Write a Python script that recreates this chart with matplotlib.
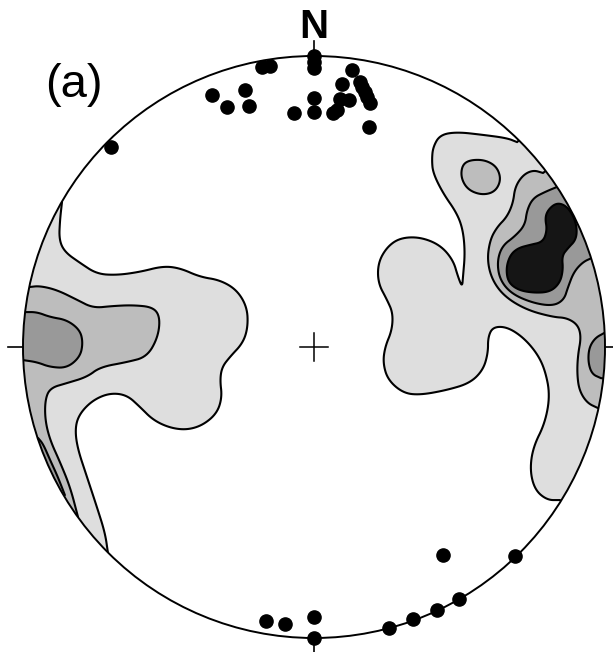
import numpy as np
import matplotlib
matplotlib.use('Agg')
import matplotlib.pyplot as plt
from matplotlib.patches import Circle, Polygon

# net coordinates: x = east, y = north, primitive circle radius 1
pole_x = [-0.179, -0.151, 0.0, 0.0, 0.0, 0.131, 0.096, 0.158, 0.165, 0.175, 0.182, 0.192,
          -0.237, -0.351, -0.299, -0.223, 0.0, -0.069, 0.0, 0.089, 0.120, 0.079, 0.065,
          0.189, -0.698,
          -0.165, -0.100, 0.0, 0.0, 0.258, 0.340, 0.423, 0.498, 0.443, 0.691]
pole_y = [0.962, 0.966, 1.0, 0.979, 0.959, 0.952, 0.904, 0.911, 0.893, 0.876, 0.859, 0.838,
          0.883, 0.866, 0.825, 0.828, 0.856, 0.804, 0.808, 0.852, 0.849, 0.814, 0.804,
          0.756, 0.687,
          -0.942, -0.952, -0.928, -1.0, -0.966, -0.935, -0.904, -0.866, -0.715, -0.718]

# contour outlines (open ones end on the primitive circle)
west_1 = [(-0.866, 0.498), (-0.873, 0.436), (-0.876, 0.368), (-0.856, 0.326), (-0.804, 0.289),
          (-0.746, 0.251), (-0.677, 0.247), (-0.598, 0.258), (-0.519, 0.278), (-0.460, 0.271),
          (-0.392, 0.241), (-0.323, 0.230), (-0.265, 0.196), (-0.230, 0.137), (-0.227, 0.069),
          (-0.244, 0.014), (-0.289, -0.034), (-0.316, -0.069), (-0.323, -0.113), (-0.316, -0.172),
          (-0.333, -0.227), (-0.381, -0.268), (-0.436, -0.285), (-0.495, -0.278), (-0.553, -0.251),
          (-0.598, -0.206), (-0.643, -0.165), (-0.701, -0.158), (-0.759, -0.182), (-0.804, -0.227),
          (-0.821, -0.275), (-0.814, -0.344), (-0.780, -0.447), (-0.746, -0.550), (-0.718, -0.639),
          (-0.708, -0.708)]
west_2 = [(-0.979, 0.206), (-0.942, 0.210), (-0.883, 0.196), (-0.814, 0.162), (-0.759, 0.134),
          (-0.691, 0.141), (-0.622, 0.144), (-0.553, 0.137), (-0.529, 0.103), (-0.536, 0.034),
          (-0.574, -0.034), (-0.643, -0.052), (-0.735, -0.069), (-0.780, -0.103), (-0.849, -0.124),
          (-0.907, -0.141), (-0.924, -0.182), (-0.924, -0.251), (-0.907, -0.320), (-0.873, -0.395),
          (-0.838, -0.481), (-0.811, -0.584)]
west_3 = [(-0.993, 0.120), (-0.952, 0.120), (-0.907, 0.103), (-0.849, 0.093), (-0.804, 0.058),
          (-0.794, 0.014), (-0.804, -0.034), (-0.849, -0.072), (-0.907, -0.069), (-0.952, -0.052),
          (-1.000, -0.045)]
west_3b = [(-0.948, -0.313), (-0.931, -0.333), (-0.907, -0.388), (-0.880, -0.447), (-0.856, -0.509)]

east_1 = [(0.698, 0.704), (0.663, 0.718), (0.581, 0.729), (0.491, 0.739), (0.433, 0.729),
          (0.409, 0.687), (0.405, 0.643), (0.409, 0.598), (0.443, 0.529), (0.491, 0.460),
          (0.512, 0.402), (0.519, 0.323), (0.512, 0.241), (0.509, 0.206), (0.495, 0.241),
          (0.478, 0.299), (0.433, 0.351), (0.364, 0.378), (0.296, 0.375), (0.251, 0.344),
          (0.220, 0.289), (0.220, 0.220), (0.251, 0.162), (0.271, 0.117), (0.268, 0.058),
          (0.244, 0.000), (0.237, -0.055), (0.254, -0.113), (0.306, -0.158), (0.364, -0.165),
          (0.457, -0.148), (0.536, -0.124), (0.581, -0.079), (0.598, -0.021), (0.598, 0.034),
          (0.615, 0.069), (0.663, 0.069), (0.718, 0.034), (0.766, -0.021), (0.794, -0.079),
          (0.811, -0.165), (0.794, -0.261), (0.753, -0.344), (0.742, -0.423), (0.759, -0.491),
          (0.801, -0.526), (0.845, -0.526)]
east_2 = [(0.787, 0.598), (0.753, 0.608), (0.718, 0.591), (0.691, 0.550), (0.684, 0.495),
          (0.663, 0.447), (0.629, 0.412), (0.605, 0.368), (0.595, 0.299), (0.612, 0.230),
          (0.656, 0.172), (0.732, 0.127), (0.821, 0.103), (0.869, 0.100), (0.907, 0.076),
          (0.918, 0.034), (0.907, -0.027), (0.904, -0.089), (0.911, -0.148), (0.938, -0.192),
          (0.976, -0.210)]
east_2b = [(0.509, 0.625), (0.536, 0.643), (0.588, 0.643), (0.629, 0.619), (0.643, 0.574),
           (0.622, 0.533), (0.577, 0.522), (0.529, 0.540), (0.505, 0.581)]
east_3 = [(0.835, 0.550), (0.794, 0.533), (0.753, 0.512), (0.732, 0.471), (0.725, 0.419),
          (0.691, 0.381), (0.646, 0.347), (0.629, 0.292), (0.639, 0.230), (0.680, 0.182),
          (0.753, 0.151), (0.821, 0.141), (0.859, 0.162), (0.873, 0.206), (0.893, 0.258),
          (0.924, 0.292), (0.955, 0.306)]
east_3b = [(0.997, 0.048), (0.966, 0.031), (0.945, -0.003), (0.942, -0.052), (0.955, -0.093),
           (0.986, -0.107)]
east_4 = [(0.804, 0.471), (0.832, 0.495), (0.863, 0.488), (0.890, 0.454), (0.904, 0.409),
          (0.900, 0.368), (0.873, 0.340), (0.852, 0.313), (0.856, 0.265), (0.845, 0.220),
          (0.811, 0.189), (0.753, 0.186), (0.701, 0.196), (0.667, 0.223), (0.660, 0.271),
          (0.674, 0.316), (0.701, 0.340), (0.742, 0.351), (0.787, 0.361), (0.801, 0.402),
          (0.794, 0.443)]

shades = ['#dedede', '#bdbdbd', '#999999', '#151515']
contours = [(west_1, 0, False), (east_1, 0, False),
            (west_2, 1, False), (east_2, 1, False), (east_2b, 1, True),
            (west_3, 2, False), (west_3b, 2, False), (east_3, 2, False), (east_3b, 2, False),
            (east_4, 3, True)]


def chaikin(p, closed, n=3):
    p = np.asarray(p, float)
    for _ in range(n):
        a = p if closed else p[:-1]
        b = np.roll(p, -1, axis=0) if closed else p[1:]
        new = np.empty((2 * len(a), 2))
        new[0::2] = 0.75 * a + 0.25 * b
        new[1::2] = 0.25 * a + 0.75 * b
        if not closed:
            new = np.vstack([p[0], new, p[-1]])
        p = new
    return p


def close_on_rim(p):
    # go round outside the net, the circle clip cuts it off
    a0 = np.arctan2(p[-1, 1], p[-1, 0])
    a1 = np.arctan2(p[0, 1], p[0, 0])
    d = (a1 - a0 + np.pi) % (2 * np.pi) - np.pi
    t = a0 + d * np.linspace(0, 1, 40)
    return np.vstack([p, 1.3 * np.column_stack([np.cos(t), np.sin(t)])])


fig = plt.figure(figsize=(6.13, 6.52), dpi=100)
ax = fig.add_axes([0, 0, 1, 1])
ax.set_xlim(-314 / 291, 299 / 291)
ax.set_ylim(-305 / 291, 347 / 291)
ax.set_aspect('equal')
ax.axis('off')

clip = Circle((0, 0), 1, transform=ax.transData)
for pts, lev, closed in contours:
    p = chaikin(pts, closed)
    if not closed:
        p = close_on_rim(p)
    poly = Polygon(p, closed=True, facecolor=shades[lev], edgecolor='black',
                   lw=1.5, joinstyle='round', zorder=1 + lev)
    ax.add_patch(poly)
    poly.set_clip_path(clip)

ax.add_patch(Circle((0, 0), 1, fill=False, edgecolor='black', lw=1.4, zorder=6))
tick = 0.05
ax.plot([0, 0], [1, 1 + tick], color='black', lw=1.2, zorder=6)
ax.plot([0, 0], [-1, -1 - tick], color='black', lw=1.2, zorder=6)
ax.plot([-1, -1 - tick], [0, 0], color='black', lw=1.2, zorder=6)
ax.plot([1, 1 + tick], [0, 0], color='black', lw=1.2, zorder=6)
ax.plot([-0.048, 0.048], [0, 0], color='black', lw=1.1, zorder=6)
ax.plot([0, 0], [-0.048, 0.048], color='black', lw=1.1, zorder=6)

ax.plot(pole_x, pole_y, 'o', color='black', ms=9.5, zorder=7)

ax.text(0.0, 1.062, 'N', fontsize=29, fontweight='bold', family='Liberation Sans',
        ha='center', va='baseline')
ax.text(-0.826, 0.859, '(a)', fontsize=34, family='Liberation Sans',
        ha='center', va='baseline')

fig.savefig('out.png', dpi=100)
